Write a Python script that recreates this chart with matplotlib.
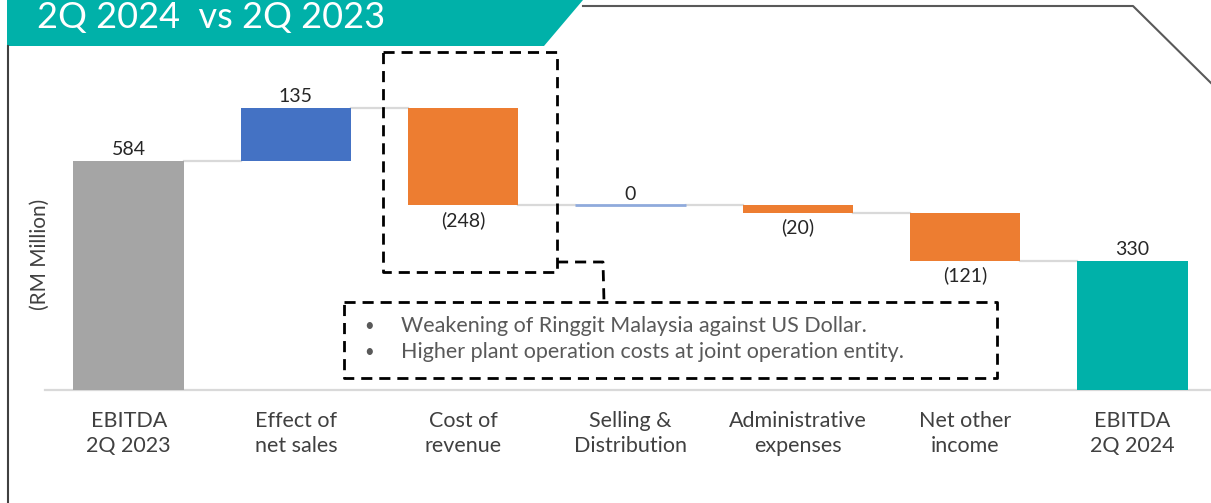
import matplotlib
matplotlib.use("Agg")
import matplotlib.pyplot as plt
from matplotlib.patches import Polygon
from matplotlib.lines import Line2D
import numpy as np

# ---- data ----
categories = ["EBITDA\n2Q 2023", "Effect of\nnet sales", "Cost of\nrevenue",
              "Selling &\nDistribution", "Administrative\nexpenses", "Net other\nincome",
              "EBITDA\n2Q 2024"]
values = [584, 135, -248, 0, -20, -121, 330]
is_total = [True, False, False, False, False, False, True]
title = "2Q 2024  vs 2Q 2023"
ylabel = "(RM Million)"
notes = ["Weakening of Ringgit Malaysia against US Dollar.",
         "Higher plant operation costs at joint operation entity."]

W, H = 1211, 503
fig = plt.figure(figsize=(W / 100, H / 100), dpi=100)

def fx(px):
    return px / W

def fy(py):
    return 1 - py / H

TEXT = "#404040"
FONT = "Lato"

# axes placement (pixels)
ax_left, ax_right, ax_top, ax_bottom = 45, 1211, 50, 390
ax = fig.add_axes([fx(ax_left), fy(ax_bottom), fx(ax_right - ax_left), (ax_bottom - ax_top) / H])
ax.set_xlim(-0.5, 6.47)
ax.set_ylim(0, 867)

# waterfall geometry
bottoms, heights, levels = [], [], []
running = 0
for v, t in zip(values, is_total):
    if t:
        bottoms.append(0)
        heights.append(v)
        running = v
    else:
        start = running
        running = running + v
        bottoms.append(min(start, running))
        heights.append(abs(v))
    levels.append(running)

colors = []
for v, t in zip(values, is_total):
    if t:
        colors.append(None)
    elif v > 0:
        colors.append("#4472c4")
    else:
        colors.append("#ed7d31")
colors[0] = "#a5a5a5"
colors[-1] = "#00b1a9"

x = np.arange(len(values))
bw = 0.66
for i in range(len(values)):
    if heights[i] == 0:
        ax.plot([x[i] - bw / 2, x[i] + bw / 2], [bottoms[i], bottoms[i]],
                color="#8faadc", lw=2, solid_capstyle="butt", zorder=3)
    else:
        ax.bar(x[i], heights[i], bottom=bottoms[i], width=bw, color=colors[i], zorder=3)

# connectors
for i in range(len(values) - 1):
    ax.plot([x[i] + bw / 2, x[i + 1] - bw / 2], [levels[i], levels[i]],
            color="#d9d9d9", lw=1.6, zorder=2)

# value labels
for i, v in enumerate(values):
    if v < 0:
        txt = f"({abs(v)})"
        ax.annotate(txt, (x[i], bottoms[i]), xytext=(0, -4), textcoords="offset points",
                    ha="center", va="top", fontsize=14, color="#262626", family=FONT)
    else:
        top = bottoms[i] + heights[i]
        ax.annotate(f"{v}", (x[i], top), xytext=(0, 2), textcoords="offset points",
                    ha="center", va="bottom", fontsize=14, color="#262626", family=FONT)

for s in ["top", "right", "left"]:
    ax.spines[s].set_visible(False)
ax.spines["bottom"].set_color("#d9d9d9")
ax.spines["bottom"].set_linewidth(1.6)
ax.set_yticks([])
ax.set_xticks(x)
ax.set_xticklabels(categories, fontsize=15.5, color=TEXT, family=FONT, linespacing=1.3)
ax.tick_params(axis="x", length=0, pad=15)
ax.patch.set_alpha(0)

# y label
fig.text(fx(40), fy(254), ylabel, rotation=90, ha="center", va="center",
         fontsize=15, color=TEXT, family=FONT)

# header banner
banner = Polygon([(fx(7), fy(0)), (fx(583), fy(0)), (fx(544), fy(46)), (fx(7), fy(46))],
                 closed=True, transform=fig.transFigure, facecolor="#00b1a9", edgecolor="none")
fig.add_artist(banner)
fig.text(fx(37), fy(28), title, ha="left", va="baseline", fontsize=26, color="white",
         family=FONT)

# frame lines
fig.add_artist(Line2D([fx(583), fx(1133), fx(1211)], [fy(6), fy(6), fy(83)],
                      transform=fig.transFigure, color="#595959", lw=1.5))
fig.add_artist(Line2D([fx(7.5), fx(7.5)], [fy(46), fy(503)],
                      transform=fig.transFigure, color="#404040", lw=1.5))

# dashed callout boxes
dash = dict(transform=fig.transFigure, color="black", lw=2, linestyle=(0, (4, 2.5)))
fig.add_artist(Line2D([fx(383), fx(557), fx(557), fx(383), fx(383)],
                      [fy(52), fy(52), fy(272), fy(272), fy(52)], **dash))
fig.add_artist(Line2D([fx(557), fx(603), fx(604)], [fy(262), fy(262), fy(302)], **dash))
fig.add_artist(Line2D([fx(344), fx(997), fx(997), fx(344), fx(344)],
                      [fy(302), fy(302), fy(378), fy(378), fy(302)], **dash))

for k, note in enumerate(notes):
    yy = 326 + 26 * k
    fig.text(fx(369), fy(yy), "\u2022", ha="center", va="center", fontsize=12, color="#595959", family=FONT)
    fig.text(fx(401), fy(yy), note, ha="left", va="center", fontsize=15.5, color="#595959",
             family=FONT)

fig.savefig("out.png", dpi=100)
